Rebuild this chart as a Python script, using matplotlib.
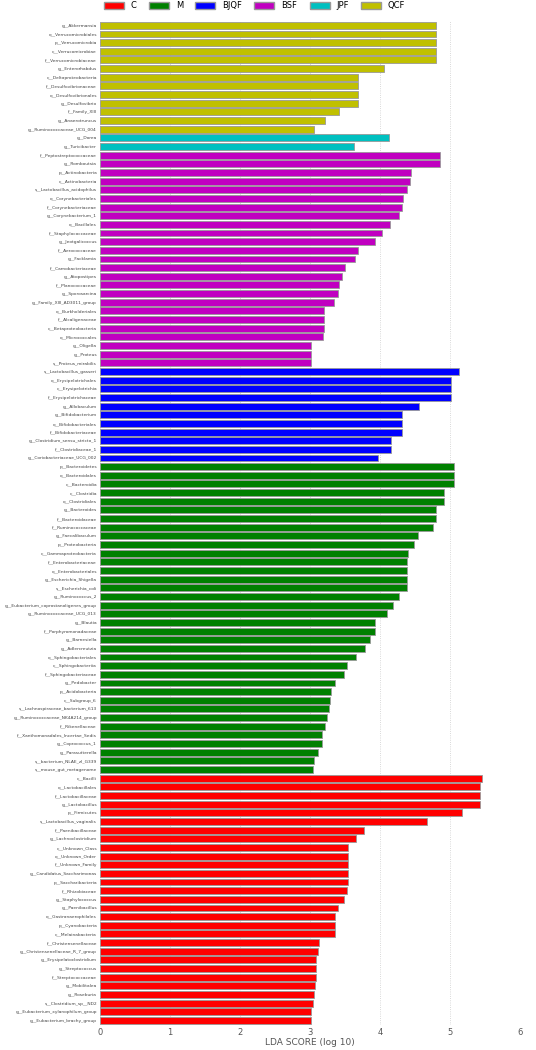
import matplotlib
matplotlib.use('Agg')
import matplotlib.pyplot as plt
from matplotlib.patches import Patch

# groups, top to bottom
qcf_names = ['g__Akkermansia', 'o__Verrucomicrobiales', 'p__Verrucomicrobia', 'c__Verrucomicrobiae',
             'f__Verrucomicrobiaceae', 'g__Enterorhabdus', 'c__Deltaproteobacteria', 'f__Desulfovibrionaceae',
             'o__Desulfovibrionales', 'g__Desulfovibrio', 'f__Family_XIII', 'g__Anaerotruncus',
             'g__Ruminococcaceae_UCG_004']
qcf_vals = [4.80, 4.80, 4.80, 4.80, 4.80, 4.05, 3.69, 3.69, 3.69, 3.69, 3.41, 3.21, 3.06]

jpf_names = ['g__Dorea', 'g__Turicibacter']
jpf_vals = [4.13, 3.62]

bsf_names = ['f__Peptostreptococcaceae', 'g__Romboutsia', 'p__Actinobacteria', 'c__Actinobacteria',
             's__Lactobacillus_acidophilus', 'o__Corynebacteriales', 'f__Corynebacteriaceae',
             'g__Corynebacterium_1', 'o__Bacillales', 'f__Staphylococcaceae', 'g__Jeotgalicoccus',
             'f__Aerococcaceae', 'g__Facklamia', 'f__Carnobacteriaceae', 'g__Atopostipes',
             'f__Planococcaceae', 'g__Sporosarcina', 'g__Family_XIII_AD3011_group', 'o__Burkholderiales',
             'f__Alcaligenaceae', 'c__Betaproteobacteria', 'o__Micrococcales', 'g__Oligella',
             'g__Proteus', 's__Proteus_mirabilis']
bsf_vals = [4.85, 4.85, 4.44, 4.42, 4.38, 4.32, 4.31, 4.27, 4.14, 4.02, 3.92, 3.69, 3.64, 3.50,
            3.45, 3.41, 3.40, 3.34, 3.20, 3.20, 3.20, 3.19, 3.01, 3.01, 3.01]

bjqf_names = ['s__Lactobacillus_gasseri', 'o__Erysipelotrichales', 'c__Erysipelotrichia',
              'f__Erysipelotrichaceae', 'g__Allobaculum', 'g__Bifidobacterium', 'o__Bifidobacteriales',
              'f__Bifidobacteriaceae', 'g__Clostridium_sensu_stricto_1', 'f__Clostridiaceae_1',
              'g__Coriobacteriaceae_UCG_002']
bjqf_vals = [5.12, 5.01, 5.01, 5.01, 4.56, 4.31, 4.31, 4.31, 4.15, 4.15, 3.97]

m_names = ['p__Bacteroidetes', 'o__Bacteroidales', 'c__Bacteroidia', 'c__Clostridia', 'o__Clostridiales',
           'g__Bacteroides', 'f__Bacteroidaceae', 'f__Ruminococcaceae', 'g__Faecalibaculum',
           'p__Proteobacteria', 'c__Gammaproteobacteria', 'f__Enterobacteriaceae', 'o__Enterobacteriales',
           'g__Escherichia_Shigella', 's__Escherichia_coli', 'g__Ruminococcus_2',
           'g__Eubacterium_coprostanoligenes_group', 'g__Ruminococcaceae_UCG_013', 'g__Blautia',
           'f__Porphyromonadaceae', 'g__Barnesiella', 'g__Adlercreutzia', 'o__Sphingobacteriales',
           'c__Sphingobacteriia', 'f__Sphingobacteriaceae', 'g__Pedobacter', 'p__Acidobacteria',
           'c__Subgroup_6', 's__Lachnospiraceae_bacterium_613', 'g__Ruminococcaceae_NK4A214_group',
           'f__Rikenellaceae', 'f__Xanthomonadales_Incertae_Sedis', 'g__Coprococcus_1',
           'g__Parasutterella', 's__bacterium_NLAE_zl_G339', 's__mouse_gut_metagenome']
m_vals = [5.05, 5.05, 5.05, 4.91, 4.91, 4.79, 4.79, 4.75, 4.54, 4.48, 4.40, 4.38, 4.38, 4.38, 4.38,
          4.27, 4.18, 4.10, 3.93, 3.92, 3.86, 3.78, 3.65, 3.53, 3.49, 3.36, 3.30, 3.29, 3.27, 3.24,
          3.21, 3.17, 3.17, 3.11, 3.06, 3.04]

c_names = ['c__Bacilli', 'o__Lactobacillales', 'f__Lactobacillaceae', 'g__Lactobacillus', 'p__Firmicutes',
           's__Lactobacillus_vaginalis', 'f__Paenibacillaceae', 'g__Lachnoclostridium', 'c__Unknown_Class',
           'o__Unknown_Order', 'f__Unknown_Family', 'g__Candidatus_Saccharimonas', 'p__Saccharibacteria',
           'f__Rhizobiaceae', 'g__Staphylococcus', 'g__Paenibacillus', 'o__Gastranaerophilales',
           'p__Cyanobacteria', 'c__Melainabacteria', 'f__Christensenellaceae',
           'g__Christensenellaceae_R_7_group', 'g__Erysipelatoclostridium', 'g__Streptococcus',
           'f__Streptococcaceae', 'g__Mobilitalea', 'g__Roseburia', 's__Clostridium_sp__ND2',
           'g__Eubacterium_xylanophilum_group', 'g__Eubacterium_brachy_group']
c_vals = [5.45, 5.43, 5.43, 5.43, 5.17, 4.67, 3.77, 3.65, 3.54, 3.54, 3.54, 3.54, 3.54, 3.52, 3.49,
          3.40, 3.35, 3.35, 3.35, 3.13, 3.12, 3.09, 3.08, 3.08, 3.07, 3.06, 3.04, 3.01, 3.01]

groups = [('QCF', qcf_names, qcf_vals, '#c0c000'),
          ('JPF', jpf_names, jpf_vals, '#00c0c0'),
          ('BSF', bsf_names, bsf_vals, '#c000c0'),
          ('BJQF', bjqf_names, bjqf_vals, '#0000ff'),
          ('M', m_names, m_vals, '#008000'),
          ('C', c_names, c_vals, '#ff0000')]

names, vals, cols = [], [], []
for g, n, v, c in groups:
    names += n
    vals += v
    cols += [c] * len(n)

fig = plt.figure(figsize=(5.36, 10.5), dpi=100)
ax = fig.add_axes([0.186, 0.024, 0.785, 0.956])
y = list(range(len(names)))
ax.barh(y, vals, height=0.8, color=cols, edgecolor='#999999', linewidth=0.6, zorder=2)
ax.set_ylim(len(names) - 0.5, -0.5)
ax.set_xlim(0, 6)
ax.set_yticks(y)
ax.set_yticklabels(names, fontsize=3.2, color='#444444')
ax.tick_params(axis='y', length=0, pad=2)
ax.tick_params(axis='x', length=0, labelsize=6, colors='#555555', pad=2)
ax.set_xlabel('LDA SCORE (log 10)', fontsize=6.5, color='#555555', labelpad=1)
ax.xaxis.grid(True, linestyle=':', color='#cccccc', linewidth=0.6, zorder=0)
for s in ax.spines.values():
    s.set_visible(False)

order = ['C', 'M', 'BJQF', 'BSF', 'JPF', 'QCF']
cmap = {g: c for g, _, _, c in groups}
handles = [Patch(facecolor=cmap[g], edgecolor='#999999', label=g) for g in order]
fig.legend(handles=handles, loc='upper left', bbox_to_anchor=(0.18, 1.006), ncol=6, frameon=False,
           fontsize=6, handlelength=2.4, handleheight=0.9, columnspacing=1.5)

fig.savefig('out.png', dpi=100, facecolor='white')
